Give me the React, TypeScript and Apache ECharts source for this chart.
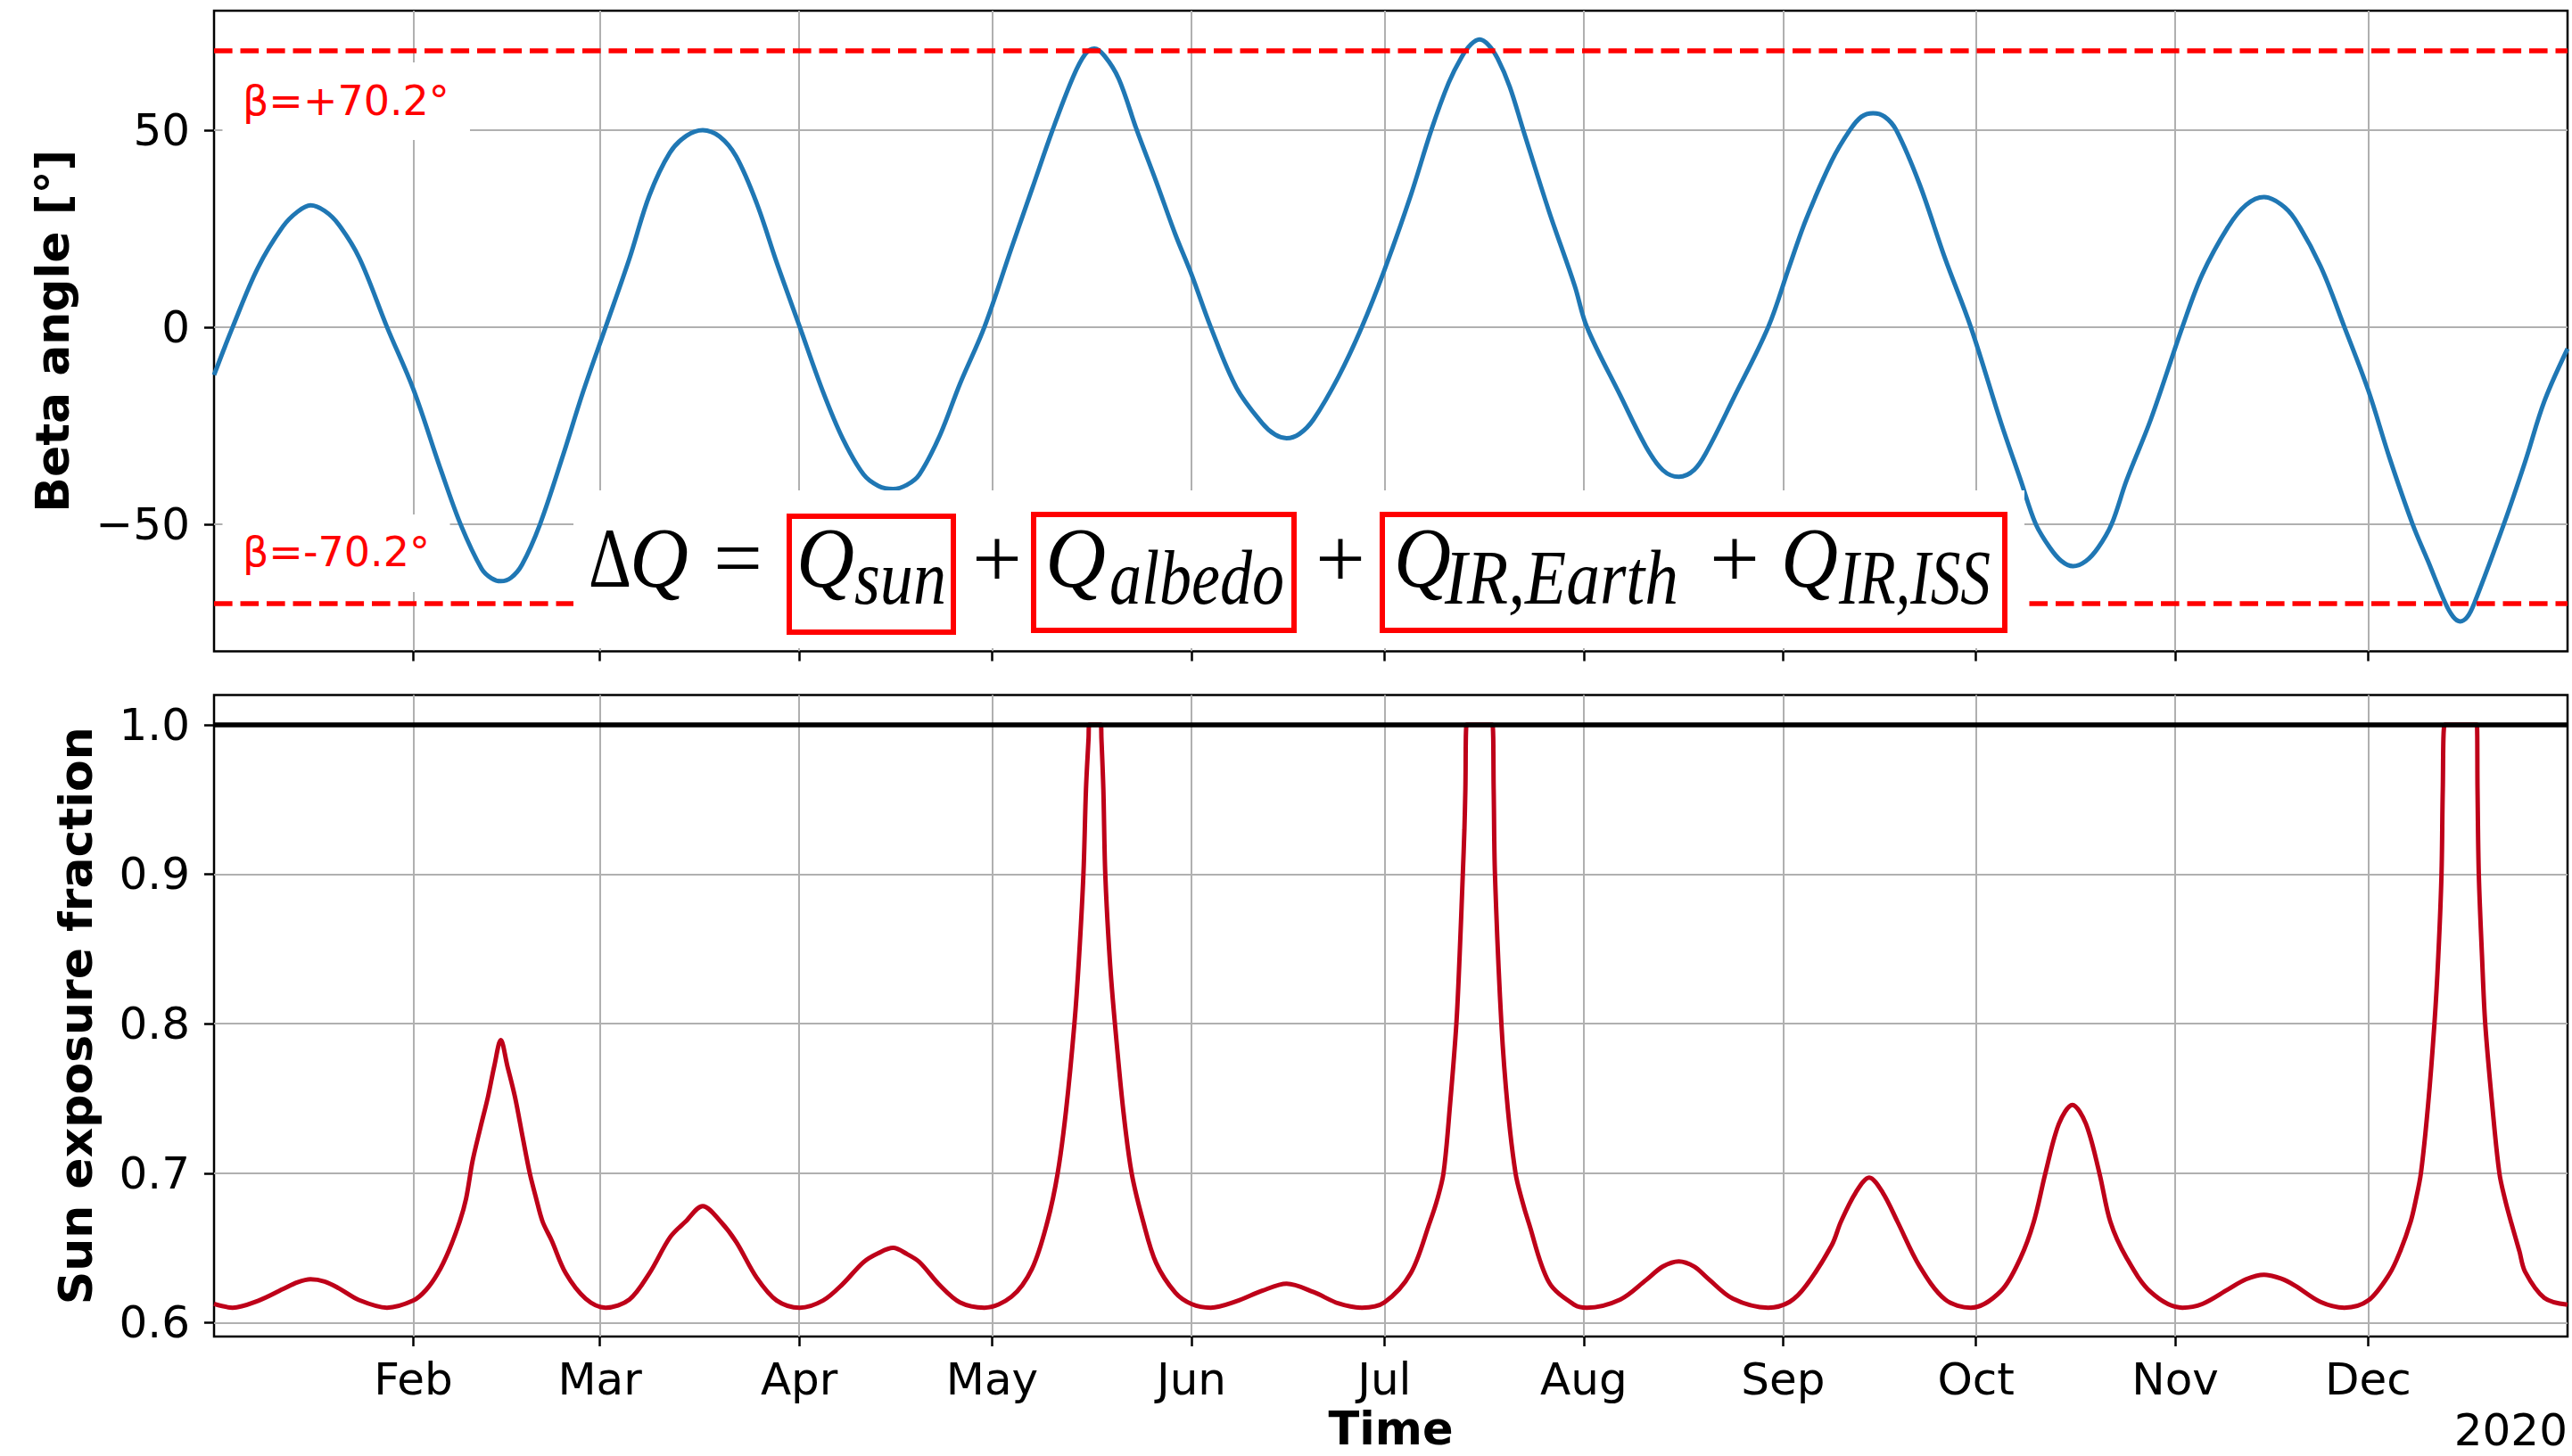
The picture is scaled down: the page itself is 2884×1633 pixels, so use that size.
import React, { useEffect, useRef } from "react";
import * as echarts from "echarts";

// ---------- data (x = days since 2020-01-01) ----------
const MONTH_LABELS = ["Feb", "Mar", "Apr", "May", "Jun", "Jul", "Aug", "Sep", "Oct", "Nov", "Dec"];
const MONTH_START_DAYS = [31, 60, 91, 121, 152, 182, 213, 244, 274, 305, 335];
const YEAR_LABEL = "2020";

const BETA_TICKS = [-50, 0, 50];
const FRAC_TICKS = [0.6, 0.7, 0.8, 0.9, 1.0];
const BETA_LIMIT = 70.2;
const FULL_SUN = 1.0;

const BETA_DAYS = [
  0, 2.9, 6.8, 10.7, 13, 15, 17.2, 19.4, 22.6, 26.9, 31, 35.3, 38.4, 41.6, 43.1, 44.6, 46.2, 47.9, 50.7, 54.3, 57.4, 60.9,
  64.6, 67.7, 70.9, 73.5, 76, 78.6, 81.2, 84.4, 87.5, 91.1, 94.7, 97.8, 101, 103.3, 105.6, 107.8, 109.7, 112.9, 116, 119.8,
  124, 127.2, 130.4, 133.6, 135.5, 136.9, 138.5, 140.7, 143.5, 146.5, 149.5, 152, 155, 159, 163, 165, 166.8, 168.8, 171, 174.9,
  178.5, 182, 186.1, 189.3, 192, 194, 195.5, 196.8, 198.2, 199.6, 201.5, 203.6, 207.6, 211.6, 213.5, 218.7, 222.7, 225.3, 227.8, 230.2, 232.2, 236.2,
  241.7, 245, 247.6, 251.6, 254.4, 256.2, 258, 259.8, 261.6, 265.2, 269.2, 273.2, 277.9, 280.9, 283.3, 285.5, 287.3, 289.1, 291.1, 293,
  295.1, 297.4, 301.2, 306.1, 309.2, 313.2, 316, 318.8, 321.4, 323.6, 327.6, 331.3, 335, 338.3, 341.9, 344.3, 347, 348.2, 349.3, 350.4, 351.5, 356.1,
  359.4, 362.4, 366,
];
const BETA_DEG = [
  -12.2, 0, 15, 25.5, 29.3, 30.9, 29.5, 26.0, 17.5, 0, -15.8, -36.4, -50.3, -61.3, -63.7, -64.5, -63.6, -60.3, -50.0, -32.4, -16.4, 0,
  17.4, 33.4, 44.3, 48.6, 50.0, 48.4, 43.3, 31.4, 16.4, 0, -16.4, -28.4, -37.4, -40.3, -41.1, -40.0, -37.4, -27.4, -14.4, 0,
  20, 35, 50, 63.5, 69.3, 70.7, 68.8, 63, 50, 37, 23.5, 13.4, 0, -15.4, -24.4, -27.3, -28.2, -27.1, -23.4, -12.5,
  0, 14.4, 33.4, 50, 62, 68.5, 71.8, 73.0, 71.6, 68.2, 61, 50, 29.4, 10.5, 0, -17.4, -30.4, -36.3, -38.0, -36.2, -31.4, -18.4,
  0, 15.5, 27.4, 42.3, 50, 53.4, 54.3, 53.4, 50, 36.4, 17.4, 0, -24.3, -38.6, -50, -56, -59.4, -60.7, -59.4, -56,
  -50, -39, -23.4, 0, 13.4, 25.4, 31, 33.0, 31.2, 27.4, 15.4, 0, -16, -33.1, -50, -59.4, -70.1, -73.5, -74.7, -73.6, -70.1, -50,
  -34.2, -18.8, -5.5,
];

const SUN_DAYS = [
  0, 2.9, 6.8, 10.7, 13, 15, 17.2, 19.4, 22.6, 26.9, 31, 33, 34.8, 36.5, 38.2, 39.2, 40.2, 41.4, 42.6, 43.6,
  44.6, 45.6, 46.8, 48, 49.1, 50.1, 51.1, 52.5, 54.7, 57.8, 60.9, 64.6, 67.7, 70.9, 73.3, 76, 78.8, 81.2, 84.4, 87.5,
  91.1, 94.7, 97.8, 101, 103.3, 105.6, 107.8, 109.7, 112.9, 116, 119.8, 124, 127.2, 129.6, 131.2, 132.5, 133.8, 134.5, 135.2, 135.6,
  136.0, 136.1, 137.9, 138.0, 138.3, 138.6, 139.3, 140.1, 141.4, 142.7, 144.5, 146.5, 149.5, 152, 155, 159, 163, 166.8, 171, 174.9,
  178.5, 182, 186.1, 189.1, 190.2, 191.2, 192.2, 193.2, 193.7, 194.2, 194.45, 194.6, 194.8, 198.8, 199.0, 199.2, 200.2, 201.2, 202.4, 203.4,
  204.4, 207.6, 211.6, 213.5, 218.7, 222.7, 225.3, 227.8, 230.2, 232.2, 236.2, 241.7, 245, 247.6, 251.6, 253, 255.3, 257.4, 259.5, 261.8,
  265.2, 269.2, 273.2, 277.9, 280.9, 283, 284.8, 286.9, 289, 291.1, 293.2, 294.9, 297.4, 301.2, 306.1, 309.2, 313.2, 316, 318.8, 321.4,
  323.6, 327.6, 331.3, 335, 338.3, 340, 341.6, 342.4, 343.2, 344.3, 345.3, 345.9, 346.4, 346.6, 346.9, 351.9, 352.0, 352.2, 352.7, 353.2,
  354.3, 355.4, 356.3, 357.2, 358.5, 359.4, 362.4, 366,
];
const SUN_FRAC = [
  0.6125, 0.610, 0.6145, 0.6224, 0.627, 0.629, 0.6275, 0.623, 0.615, 0.610, 0.6148, 0.622, 0.633, 0.648, 0.6675, 0.683, 0.708, 0.730, 0.751, 0.772,
  0.789, 0.772, 0.751, 0.724, 0.700, 0.683, 0.6675, 0.655, 0.633, 0.616, 0.610, 0.6155, 0.633, 0.657, 0.6675, 0.678, 0.6675, 0.654, 0.630, 0.6148,
  0.610, 0.6148, 0.626, 0.6405, 0.6465, 0.650, 0.6458, 0.6405, 0.6248, 0.6135, 0.610, 0.6173, 0.636, 0.6675, 0.700, 0.742, 0.800, 0.843, 0.900, 0.957,
  0.991, 1.0, 1.0, 0.991, 0.957, 0.900, 0.843, 0.800, 0.742, 0.700, 0.6675, 0.640, 0.620, 0.6125, 0.610, 0.6143, 0.6213, 0.626, 0.6204, 0.6128,
  0.610, 0.6135, 0.633, 0.6675, 0.682, 0.700, 0.745, 0.800, 0.845, 0.900, 0.930, 0.957, 1.0, 1.0, 0.957, 0.900, 0.800, 0.743, 0.700, 0.682,
  0.6675, 0.627, 0.6118, 0.610, 0.6155, 0.6285, 0.6375, 0.641, 0.6375, 0.630, 0.616, 0.610, 0.6138, 0.6248, 0.652, 0.6675, 0.687, 0.697, 0.687, 0.6675,
  0.638, 0.6155, 0.610, 0.6212, 0.643, 0.6675, 0.700, 0.733, 0.7457, 0.733, 0.700, 0.6675, 0.6435, 0.6204, 0.610, 0.6125, 0.6222, 0.629, 0.632, 0.6295,
  0.6248, 0.6138, 0.610, 0.6148, 0.6325, 0.648, 0.6675, 0.682, 0.700, 0.745, 0.800, 0.845, 0.900, 0.957, 1.0, 1.0, 0.957, 0.900, 0.845, 0.800,
  0.745, 0.700, 0.682, 0.6675, 0.648, 0.634, 0.6165, 0.612,
];

// ---------- layout ----------
const W = 2884;
const H = 1633;
const LEFT = 240;
const PLOT_W = 2639;
const TOP1 = 12;
const H1 = 718.5;
const TOP2 = 779.5;
const H2 = 719.5;

const SANS = "DejaVu Sans";
const SERIF = "Liberation Serif";

function monthLabel(v: number): string {
  const i = MONTH_START_DAYS.indexOf(Math.round(v));
  return i >= 0 ? MONTH_LABELS[i] : "";
}

let measureCtx: CanvasRenderingContext2D | null = null;
function textWidth(text: string, font: string): number {
  if (!measureCtx) measureCtx = document.createElement("canvas").getContext("2d");
  if (!measureCtx) return 0;
  measureCtx.font = font;
  return measureCtx.measureText(text).width;
}

// baseline-positioned equation text, optionally stretched to a target width
function eqText(text: string, x: number, baseline: number, size: number, italic: boolean, sy: number, targetW?: number, align = "left") {
  const font = `${italic ? "italic " : ""}${size}px "${SERIF}"`;
  const w = textWidth(text, font);
  const sx = targetW && w > 0 ? targetW / w : 1;
  return {
    type: "text",
    x,
    y: baseline - 0.3375 * size * sy,
    scaleX: sx,
    scaleY: sy,
    z: 60,
    style: {
      text,
      fill: "#000",
      fontFamily: SERIF,
      fontSize: size,
      fontStyle: italic ? "italic" : "normal",
      align,
      verticalAlign: "middle",
    },
  };
}

function redBox(x: number, y: number, w: number, h: number) {
  return {
    type: "rect",
    z: 61,
    shape: { x, y, width: w, height: h },
    style: { fill: "none", stroke: "#ff0000", lineWidth: 6 },
  };
}

export default function App() {
  const ref = useRef<HTMLDivElement>(null);

  useEffect(() => {
    if (!ref.current) return;
    const chart = echarts.init(ref.current, null, { renderer: "svg" });

    const betaData = BETA_DAYS.map((d, i) => [d, BETA_DEG[i]]);
    const sunData = SUN_DAYS.map((d, i) => [d, SUN_FRAC[i]]);

    const tickStyle = { color: "#000", width: 2.5 };
    const gridLine = { show: true, lineStyle: { color: "#b0b0b0", width: 2 } };
    const labelBase = { color: "#000", fontSize: 50, fontFamily: SANS };
    const noLine = { show: false, onZero: false };

    const MAIN = 90;
    const SUB = 70;
    const MAIN_SY = 1.05;
    const SUB_SY = 1.25;
    const MB = 658; // main baseline
    const SB = 677; // subscript baseline

    const option: any = {
      animation: false,
      backgroundColor: "#fff",
      textStyle: { fontFamily: SANS },
      grid: [
        { left: LEFT, top: TOP1, width: PLOT_W, height: H1, show: true, borderColor: "#000", borderWidth: 2.5, backgroundColor: "transparent", containLabel: false, outerBoundsMode: "none" },
        { left: LEFT, top: TOP2, width: PLOT_W, height: H2, show: true, borderColor: "#000", borderWidth: 2.5, backgroundColor: "transparent", containLabel: false, outerBoundsMode: "none" },
      ],
      xAxis: [
        {
          gridIndex: 0, type: "value", min: 0, max: 366, position: "bottom",
          axisLine: noLine,
          axisTick: { show: true, customValues: MONTH_START_DAYS, length: 11, lineStyle: tickStyle },
          axisLabel: { show: false, customValues: MONTH_START_DAYS },
          splitLine: gridLine,
        },
        {
          gridIndex: 1, type: "value", min: 0, max: 366, position: "bottom",
          axisLine: noLine,
          axisTick: { show: true, customValues: MONTH_START_DAYS, length: 11, lineStyle: tickStyle },
          axisLabel: { ...labelBase, customValues: MONTH_START_DAYS, margin: 23, formatter: (v: number) => monthLabel(v) },
          splitLine: gridLine,
        },
      ],
      yAxis: [
        {
          gridIndex: 0, type: "value", min: -82.3, max: 80.3, position: "left",
          axisLine: noLine,
          axisTick: { show: true, customValues: BETA_TICKS, length: 11, lineStyle: tickStyle },
          axisLabel: { ...labelBase, customValues: BETA_TICKS, margin: 27, formatter: (v: number) => (v < 0 ? "\u2212" + Math.abs(v) : String(v)) },
          splitLine: gridLine,
        },
        {
          gridIndex: 1, type: "value", min: 0.5907, max: 1.0199, position: "left",
          axisLine: noLine,
          axisTick: { show: true, customValues: FRAC_TICKS, length: 11, lineStyle: tickStyle },
          axisLabel: { ...labelBase, customValues: FRAC_TICKS, margin: 27, formatter: (v: number) => v.toFixed(1) },
          splitLine: gridLine,
        },
      ],
      series: [
        {
          type: "line", xAxisIndex: 0, yAxisIndex: 0, data: betaData,
          showSymbol: false, smooth: 0.35, z: 3,
          lineStyle: { color: "#1f77b4", width: 5 },
          itemStyle: { color: "#1f77b4" },
          markLine: {
            silent: true, symbol: "none", label: { show: false }, animation: false,
            lineStyle: { color: "#ff0000", type: [20.6, 8.9], width: 5.5 },
            emphasis: { disabled: true },
            data: [{ yAxis: BETA_LIMIT }, { yAxis: -BETA_LIMIT }],
          },
        },
        {
          type: "line", xAxisIndex: 1, yAxisIndex: 1, data: sunData,
          showSymbol: false, smooth: 0.33, z: 3,
          lineStyle: { color: "#be0119", width: 5 },
          itemStyle: { color: "#be0119" },
          markLine: {
            silent: true, symbol: "none", label: { show: false }, animation: false,
            lineStyle: { color: "#000", type: "solid", width: 5.5 },
            emphasis: { disabled: true },
            data: [{ yAxis: FULL_SUN }],
          },
        },
      ],
      graphic: [
        // axis titles
        { type: "text", x: 59, y: TOP1 + H1 / 2, rotation: Math.PI / 2, z: 60,
          style: { text: "Beta angle [°]", fill: "#000", fontFamily: SANS, fontWeight: "bold", fontSize: 52, align: "center", verticalAlign: "middle" } },
        { type: "text", x: 85, y: TOP2 + H2 / 2, rotation: Math.PI / 2, z: 60,
          style: { text: "Sun exposure fraction", fill: "#000", fontFamily: SANS, fontWeight: "bold", fontSize: 52, align: "center", verticalAlign: "middle" } },
        { type: "text", x: LEFT + PLOT_W / 2, y: 1602, z: 60,
          style: { text: "Time", fill: "#000", fontFamily: SANS, fontWeight: "bold", fontSize: 51, align: "center", verticalAlign: "middle" } },
        { type: "text", x: LEFT + PLOT_W, y: 1604, z: 60,
          style: { text: YEAR_LABEL, fill: "#000", fontFamily: SANS, fontSize: 50, align: "right", verticalAlign: "middle" } },
        // beta limit labels
        { type: "rect", z: 50, shape: { x: 249.5, y: 70, width: 277.5, height: 87 }, style: { fill: "#fff" } },
        { type: "text", x: 272, y: 112.6, z: 51,
          style: { text: "β=+70.2°", fill: "#ff0000", fontFamily: SANS, fontSize: 46, align: "left", verticalAlign: "middle" } },
        { type: "rect", z: 50, shape: { x: 249.5, y: 577, width: 255, height: 87 }, style: { fill: "#fff" } },
        { type: "text", x: 272, y: 619, z: 51,
          style: { text: "β=-70.2°", fill: "#ff0000", fontFamily: SANS, fontSize: 46, align: "left", verticalAlign: "middle" } },
        // equation
        { type: "rect", z: 55, shape: { x: 643, y: 550, width: 1627, height: 177 }, style: { fill: "#fff" } },
        eqText("Δ", 660, MB, MAIN, false, MAIN_SY, 48),
        eqText("Q", 706, MB, MAIN, true, MAIN_SY, 66),
        eqText("=", 800, MB, MAIN, false, MAIN_SY, 55),
        redBox(885, 579, 184, 130),
        eqText("Q", 893, MB, MAIN, true, MAIN_SY, 65),
        eqText("sun", 958, SB, SUB, true, SUB_SY, 103),
        eqText("+", 1090, MB, MAIN, false, MAIN_SY, 56),
        redBox(1159, 577, 292, 130),
        eqText("Q", 1172, MB, MAIN, true, MAIN_SY, 68),
        eqText("albedo", 1244, SB, SUB, true, SUB_SY, 196),
        eqText("+", 1475, MB, MAIN, false, MAIN_SY, 56),
        redBox(1550, 577, 698, 130),
        eqText("Q", 1563, MB, MAIN, true, MAIN_SY, 64),
        eqText("IR,Earth", 1620, SB, SUB, true, SUB_SY, 262),
        eqText("+", 1917, MB, MAIN, false, MAIN_SY, 56),
        eqText("Q", 1997, MB, MAIN, true, MAIN_SY, 64),
        eqText("IR,ISS", 2062, SB, SUB, true, SUB_SY, 170),
      ],
    };

    chart.setOption(option);
    return () => chart.dispose();
  }, []);

  return (
    <div
      ref={ref}
      style={{ position: "fixed", left: 0, top: 0, width: W, height: H, background: "#fff" }}
    />
  );
}
